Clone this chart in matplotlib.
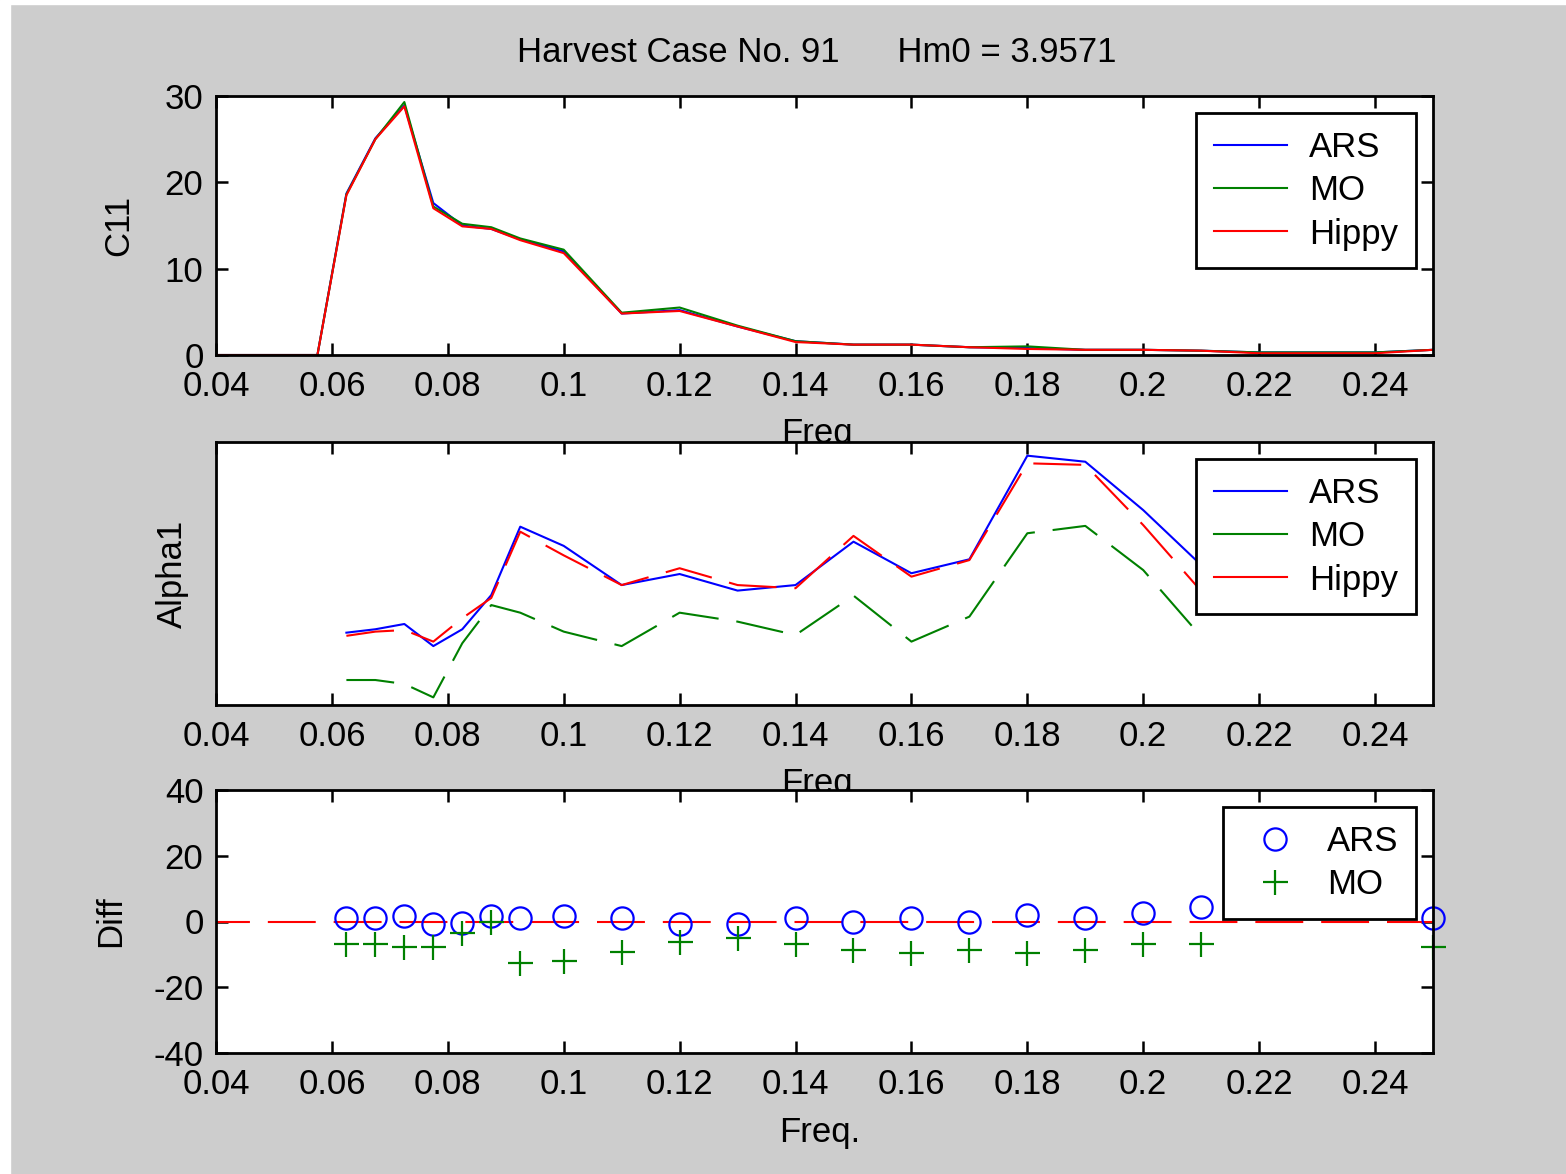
import numpy as np
import matplotlib
matplotlib.use('Agg')
import matplotlib.pyplot as plt
from matplotlib.patches import Rectangle

plt.rcParams['font.family'] = ['Liberation Sans', 'DejaVu Sans']
plt.rcParams['font.size'] = 25
plt.rcParams['axes.unicode_minus'] = False

nan = np.nan

# frequency grid
freq = [0.0375, 0.0425, 0.0475, 0.0525, 0.0575, 0.0625, 0.0675, 0.0725, 0.0775,
        0.0825, 0.0875, 0.0925, 0.1, 0.11, 0.12, 0.13, 0.14, 0.15, 0.16, 0.17,
        0.18, 0.19, 0.2, 0.21, 0.22, 0.23, 0.24, 0.25]

# C11 spectra
c11_ars = [0, 0, 0, 0, 0, 18.7, 25.1, 28.9, 17.6, 15.0, 14.6, 13.4, 12.0, 4.8,
           5.2, 3.3, 1.6, 1.2, 1.2, 0.9, 0.8, 0.6, 0.6, 0.5, 0.3, 0.3, 0.3, 0.6]
c11_mo = [0, 0, 0, 0, 0, 18.6, 25.0, 29.3, 17.2, 15.2, 14.8, 13.5, 12.2, 4.9,
          5.5, 3.4, 1.6, 1.2, 1.2, 0.9, 1.0, 0.6, 0.6, 0.5, 0.3, 0.3, 0.3, 0.6]
c11_hippy = [0, 0, 0, 0, 0, 18.5, 25.0, 28.8, 17.0, 14.9, 14.6, 13.3, 11.8, 4.8,
             5.1, 3.3, 1.5, 1.2, 1.2, 0.9, 0.7, 0.6, 0.6, 0.5, 0.2, 0.2, 0.2, 0.6]

# Alpha1 (mean direction)
a1_ars = [nan, nan, nan, nan, nan, 207.5, 208.8, 210.8, 202.4, 208.8, 221.8, 247.8,
          240.5, 225.6, 229.8, 223.5, 225.6, 242.1, 230.1, 235.4, 274.8, 272.5,
          254.1, 233.2, nan, nan, nan, 201.7]
a1_mo = [nan, nan, nan, nan, nan, 189.5, 189.5, 188.0, 182.9, 203.5, 218.0, 215.1,
         207.9, 202.4, 215.1, 211.7, 206.6, 221.6, 204.1, 213.6, 245.3, 248.1,
         231.3, 206.0, nan, nan, nan, 182.7]
a1_hippy = [nan, nan, nan, nan, nan, 206.3, 207.9, 208.5, 204.1, 213.0, 220.7, 245.9,
            236.9, 225.6, 232.0, 225.6, 224.4, 244.3, 228.8, 235.1, 271.9, 271.3,
            248.4, 223.3, nan, nan, nan, 200.9]

# differences
diff_ars = [nan, nan, nan, nan, nan, 1.0, 1.0, 1.7, -0.8, -0.6, 1.7, 1.0, 1.7, 1.0,
            -0.8, -0.8, 1.0, 0.0, 1.0, 0.0, 2.0, 1.0, 2.7, 4.3, nan, nan, nan, 1.0]
diff_mo = [nan, nan, nan, nan, nan, -6.8, -6.8, -7.7, -7.7, -3.4, 0.0, -12.7, -11.9,
           -9.4, -6.1, -5.1, -6.8, -8.7, -9.5, -8.7, -9.5, -8.7, -6.8, -6.8,
           nan, nan, nan, -7.7]
zero_line = [0] * len(freq)

W, H = 1566, 1174
fig = plt.figure(figsize=(W / 100, H / 100), dpi=100, facecolor='#cdcdcd')
fig.patches.append(Rectangle((0, 0), 10 / W, 1, transform=fig.transFigure, color='white', zorder=-1))
fig.patches.append(Rectangle((0, 1 - 4 / H), 1, 4 / H, transform=fig.transFigure, color='white', zorder=-1))


def px_axes(top, bottom):
    return fig.add_axes([216 / W, (H - bottom) / H, (1433 - 216) / W, (bottom - top) / H])


def style(ax):
    ax.set_xlim(0.04, 0.25)
    ax.set_xticks([0.04, 0.06, 0.08, 0.1, 0.12, 0.14, 0.16, 0.18, 0.2, 0.22, 0.24])
    ax.set_xticklabels(['0.04', '0.06', '0.08', '0.1', '0.12', '0.14', '0.16',
                        '0.18', '0.2', '0.22', '0.24'])
    ax.tick_params(direction='in', top=True, right=True, length=8.5, width=1.8, pad=9)
    ax.tick_params(axis='x', pad=11)
    for s in ax.spines.values():
        s.set_linewidth(2)
    ax.set_facecolor('white')


def leg(ax, hl=1.8, htp=0.7, bp=0.5):
    lg = ax.legend(loc='upper right', fancybox=False, edgecolor='black', framealpha=1,
                   borderaxespad=0.5, borderpad=bp, labelspacing=0.3,
                   handletextpad=htp, handlelength=hl)
    lg.get_frame().set_linewidth(2)
    return lg


blue, green, red = '#0000ff', '#008000', '#ff0000'
dash = (23, 8.6)

# C11
ax1 = px_axes(96, 355)
ax1.plot(freq, c11_ars, color=blue, lw=1.5, label='ARS')
ax1.plot(freq, c11_mo, color=green, lw=1.5, label='MO')
ax1.plot(freq, c11_hippy, color=red, lw=1.5, label='Hippy')
style(ax1)
ax1.set_ylim(0, 30)
ax1.set_yticks([0, 10, 20, 30])
ax1.set_ylabel('C11')
ax1.yaxis.set_label_coords(-0.066, 0.5)
ax1.set_xlabel('Freq')
ax1.xaxis.set_label_coords(0.494, -0.24)
leg(ax1, hl=2.1, htp=0.65)

# Alpha1
ax2 = px_axes(442, 705)
ax2.plot(freq, a1_ars, color=blue, lw=1.5, label='ARS')
ax2.plot(freq, a1_mo, color=green, lw=1.5, dashes=dash, label='MO')
ax2.plot(freq, a1_hippy, color=red, lw=1.5, dashes=dash, label='Hippy')
style(ax2)
ax2.set_ylim(180, 280)
ax2.set_yticks([])
ax2.set_ylabel('Alpha1')
ax2.yaxis.set_label_coords(-0.022, 0.5)
ax2.set_xlabel('Freq')
ax2.xaxis.set_label_coords(0.494, -0.237)
lg2 = leg(ax2, hl=2.1, htp=0.65)
for h in lg2.get_lines():
    h.set_linestyle('-')

# Diff
ax3 = px_axes(790, 1053)
ax3.plot(freq, zero_line, color=red, lw=1.5, dashes=dash)
ax3.plot(freq, diff_ars, 'o', color=blue, mfc='none', ms=16, mew=1.6, clip_on=False, label='ARS')
ax3.plot(freq, diff_mo, '+', color=green, ms=18, mew=1.6, clip_on=False, label='MO')
style(ax3)
ax3.set_ylim(-40, 40)
ax3.set_yticks([-40, -20, 0, 20, 40])
ax3.set_ylabel('Diff')
ax3.yaxis.set_label_coords(-0.073, 0.5)
ax3.set_xlabel('Freq.')
ax3.xaxis.set_label_coords(0.496, -0.24)
leg(ax3, hl=2.0, htp=0.5)

fig.text(817 / W, 1 - 52 / H, 'Harvest Case No. 91      Hm0 = 3.9571', ha='center', va='center')

fig.savefig('out.png', dpi=100, facecolor=fig.get_facecolor())
